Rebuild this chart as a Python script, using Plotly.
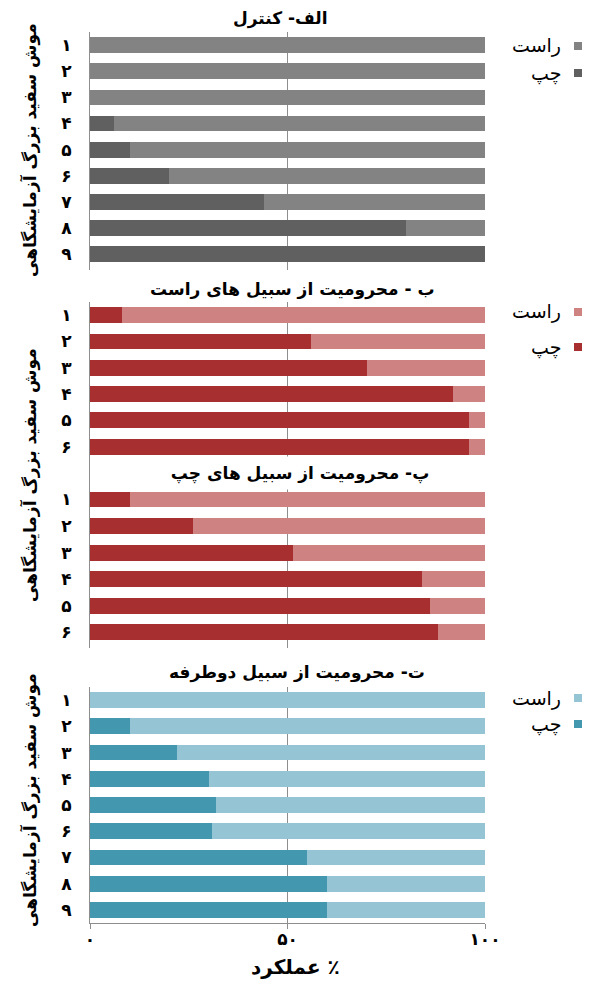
import plotly.graph_objects as go

W, H = 590, 981

# ---- data ----
rows9 = ["۱", "۲", "۳", "۴", "۵", "۶", "۷", "۸", "۹"]
rows6 = ["۱", "۲", "۳", "۴", "۵", "۶"]

series_names = ["راست", "چپ"]

control_left = [0, 0, 0, 6, 10, 20, 44, 80, 100]
control_right = [100, 100, 100, 94, 90, 80, 56, 20, 0]

rightcut_left = [8, 56, 70, 92, 96, 96]
rightcut_right = [92, 44, 30, 8, 4, 4]

leftcut_left = [10, 26, 51.5, 84, 86, 88]
leftcut_right = [90, 74, 48.5, 16, 14, 12]

bilat_left = [0, 10, 22, 30, 32, 31, 55, 60, 60]
bilat_right = [100, 90, 78, 70, 68, 69, 45, 40, 40]

titles = ["الف- کنترل", "ب - محرومیت از سبیل های راست",
          "پ- محرومیت از سبیل های چپ", "ت- محرومیت از سبیل دوطرفه"]
y_title = "موش سفید بزرگ آزمایشگاهی"
x_title = "\u200f٪ عملکرد"
x_tickvals = [0, 50, 100]
x_ticktext = ["۰", "۵۰", "۱۰۰"]

gray = {"right": "#838383", "left": "#606060"}
red = {"right": "#cf8282", "left": "#a82f2f"}
teal = {"right": "#95c4d5", "left": "#4398b0"}

FONT = "DejaVu Sans"
BOLD = "DejaVu Sans"


def py(px):
    return 1 - px / H


def pxx(px):
    return px / W


fig = go.Figure()

panels = [
    (rows9, control_left, control_right, gray, "x", "y"),
    (rows6, rightcut_left, rightcut_right, red, "x2", "y2"),
    (rows6, leftcut_left, leftcut_right, red, "x3", "y3"),
    (rows9, bilat_left, bilat_right, teal, "x4", "y4"),
]

for cats, left, right, col, xa, ya in panels:
    fig.add_trace(go.Bar(y=cats, x=left, orientation="h", name=series_names[1],
                         marker=dict(color=col["left"], line=dict(width=0)),
                         width=0.6, xaxis=xa, yaxis=ya, showlegend=False))
    fig.add_trace(go.Bar(y=cats, x=right, orientation="h", name=series_names[0],
                         marker=dict(color=col["right"], line=dict(width=0)),
                         width=0.6, xaxis=xa, yaxis=ya, showlegend=False))

xdom = [pxx(90), pxx(485)]
grid = "#8e8e8e"

doms = [(32, 270, [8.6, -0.5]), (302, 473, [6.0, -0.5]),
        (473, 648, [5.6, -1.0]), (687, 923, [8.5, -0.5])]

layout = dict(
    width=W, height=H, autosize=False, margin=dict(l=0, r=0, t=0, b=0, autoexpand=False),
    paper_bgcolor="white", plot_bgcolor="white",
    barmode="stack", showlegend=False,
    font=dict(family=FONT, color="black"),
)

for i, (top, bot, rng) in enumerate(doms):
    n = "" if i == 0 else str(i + 1)
    last = i == 3
    layout["xaxis" + n] = dict(
        domain=xdom, range=[0, 100], anchor="y" + n, automargin=False,
        tickvals=x_tickvals, ticktext=x_ticktext if last else ["", "", ""],
        showticklabels=last, showgrid=True, gridcolor=grid, gridwidth=1,
        zeroline=False, showline=last, linecolor=grid, linewidth=1,
        ticks="outside" if last else "", ticklen=5, tickcolor=grid,
        ticklabelstandoff=-4,
        tickfont=dict(family=BOLD, size=17, color="black", weight="bold"),
        fixedrange=True,
    )
    layout["yaxis" + n] = dict(
        domain=[py(bot), py(top)], range=rng, anchor="x" + n, automargin=False,
        type="category", showgrid=False, zeroline=False,
        showline=True, linecolor=grid, linewidth=1, ticks="",
        ticklabelstandoff=14,
        tickfont=dict(family=BOLD, size=17, color="black", weight="bold"),
        fixedrange=True,
    )

fig.update_layout(**layout)

ann = []
title_pos = [(280, 18, None), (292, 289, None), (300, 473, (272, 32)), (297, 672, None)]
for t, (x, y, box) in zip(titles, title_pos):
    a = dict(text=t, x=pxx(x), y=py(y), xref="paper", yref="paper",
             showarrow=False, xanchor="center", yanchor="middle",
             font=dict(family=BOLD, size=17, color="black", weight="bold"))
    if box:
        a.update(width=box[0], height=box[1], bgcolor="white", borderpad=0)
    ann.append(a)

for yc in [150, 475, 800]:
    ann.append(dict(text=y_title, x=pxx(30), y=py(yc), xref="paper", yref="paper",
                    showarrow=False, textangle=-90, xanchor="center", yanchor="middle",
                    font=dict(family=BOLD, size=17, color="black", weight="bold")))

ann.append(dict(text=x_title, x=pxx(295), y=py(967), xref="paper", yref="paper",
                showarrow=False, xanchor="center", yanchor="middle",
                font=dict(family=BOLD, size=20, color="black", weight="bold")))

shapes = []
legend_sets = [(gray, 46, 73), (red, 312, 347), (teal, 698, 724)]
for col, y1, y2 in legend_sets:
    for name, key, yy in [(series_names[0], "right", y1), (series_names[1], "left", y2)]:
        ann.append(dict(text=name, x=pxx(563), y=py(yy), xref="paper", yref="paper",
                        showarrow=False, xanchor="right", yanchor="middle",
                        font=dict(family=FONT, size=19, color="black")))
        shapes.append(dict(type="rect", xref="paper", yref="paper",
                           x0=pxx(574), x1=pxx(582), y0=py(yy + 4), y1=py(yy - 4),
                           fillcolor=col[key], line=dict(width=0)))

fig.update_layout(annotations=ann, shapes=shapes)

post = ("document.documentElement.style.overflow='hidden';"
        "document.body.style.overflow='hidden';document.body.style.margin='0';")
fig.write_html("out.html", config={"responsive": False}, post_script=post)
